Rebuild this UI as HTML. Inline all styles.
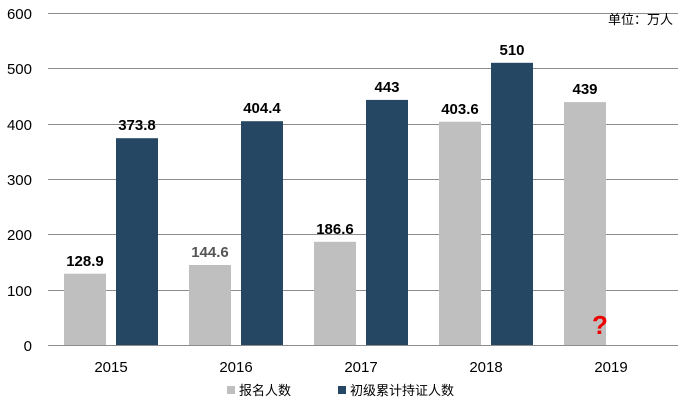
<!DOCTYPE html>
<html><head><meta charset="utf-8"><style>body{margin:0;background:#fff}svg{display:block}</style></head><body>
<svg width="681" height="404" xmlns="http://www.w3.org/2000/svg" font-family="Liberation Sans, Noto Sans CJK SC, sans-serif">
<g stroke="#8c8c8c" stroke-width="1">
<line x1="48" y1="13.5" x2="678" y2="13.5"/><line x1="48" y1="68.5" x2="678" y2="68.5"/><line x1="48" y1="124.5" x2="678" y2="124.5"/><line x1="48" y1="179.5" x2="678" y2="179.5"/><line x1="48" y1="234.5" x2="678" y2="234.5"/><line x1="48" y1="290.5" x2="678" y2="290.5"/><line x1="48" y1="345.5" x2="678" y2="345.5"/>
</g>
<g font-size="15" text-anchor="end" fill="#000">
<text x="32" y="19">600</text><text x="32" y="74">500</text><text x="32" y="130">400</text><text x="32" y="185">300</text><text x="32" y="240">200</text><text x="32" y="296">100</text><text x="32" y="351">0</text>
</g>
<g fill="#bfbfbf">
<rect x="64" y="273.7" width="42" height="71.3"/><rect x="189" y="265" width="42" height="80"/><rect x="314" y="241.8" width="42" height="103.2"/><rect x="439" y="121.7" width="42" height="223.3"/><rect x="564" y="102.1" width="42" height="242.9"/>
</g>
<g fill="#264763">
<rect x="116" y="138.2" width="42" height="206.8"/><rect x="241" y="121.2" width="42" height="223.8"/><rect x="366" y="99.9" width="42" height="245.1"/><rect x="491" y="62.8" width="42" height="282.2"/>
</g>
<g font-size="15" font-weight="bold" text-anchor="middle" fill="#000">
<text x="85" y="266">128.9</text><text x="137" y="130">373.8</text>
<text x="210" y="257" fill="#555">144.6</text><text x="262" y="113">404.4</text>
<text x="335" y="234">186.6</text><text x="387" y="92">443</text>
<text x="460" y="114">403.6</text><text x="512" y="55">510</text>
<text x="585" y="94">439</text>
</g>
<text x="600" y="334" font-size="26" font-weight="bold" fill="#e00" text-anchor="middle">?</text>
<g font-size="15" text-anchor="middle" fill="#000">
<text x="111" y="372">2015</text><text x="236" y="372">2016</text><text x="361" y="372">2017</text><text x="486" y="372">2018</text><text x="611" y="372">2019</text>
</g>
<text x="673" y="24" font-size="13" text-anchor="end">单位：万人</text>
<rect x="227" y="386" width="8" height="8" fill="#bfbfbf"/>
<text x="239" y="395" font-size="13">报名人数</text>
<rect x="338" y="386" width="8" height="8" fill="#264763"/>
<text x="350" y="395" font-size="13">初级累计持证人数</text>
</svg>
</body></html>
